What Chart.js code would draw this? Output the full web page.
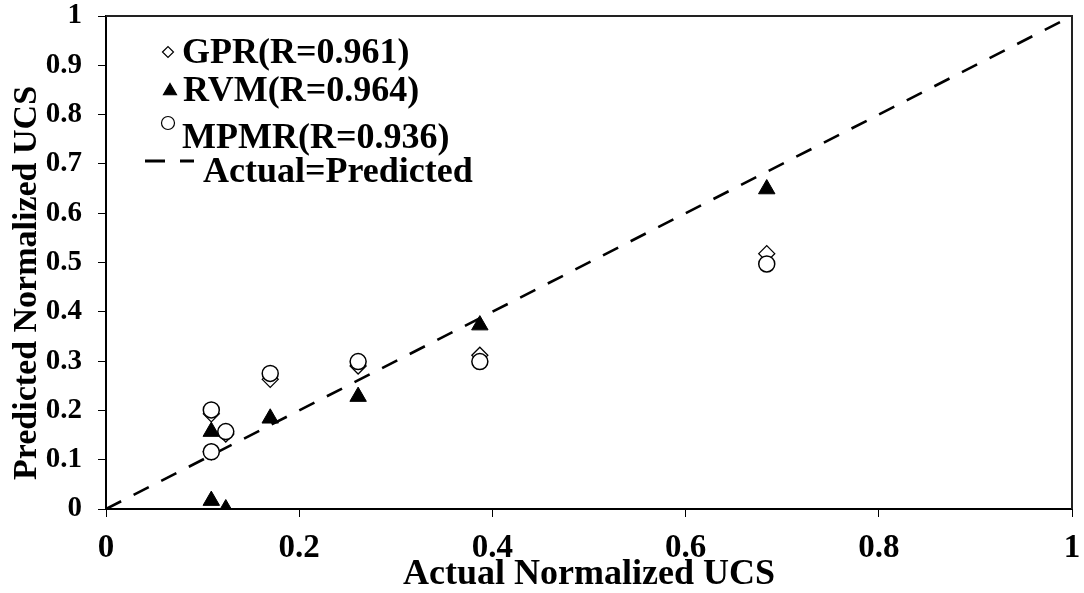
<!DOCTYPE html>
<html>
<head>
<meta charset="utf-8">
<script src="https://cdn.jsdelivr.net/npm/chart.js@4.4.1/dist/chart.umd.min.js"></script>
<style>
  html, body { margin: 0; padding: 0; background: #fff; }
  #wrap { width: 1084px; height: 593px; }
</style>
</head>
<body>
<div id="wrap"><canvas id="ucsChart" width="1084" height="593"></canvas></div>
<script>
// ─── Data ────────────────────────────────────────────────
const actualUcs = [0.109, 0.109, 0.124, 0.170, 0.261, 0.387, 0.684];
const gprPred   = [0.193, 0.116, 0.152, 0.263, 0.290, 0.312, 0.518];
const rvmPred   = [0.157, 0.017, 0.000, 0.184, 0.228, 0.373, 0.649];
const mpmrPred  = [0.201, 0.116, 0.157, 0.275, 0.299, 0.299, 0.497];
const idealLine = [0, 1];

const seriesLabels = ['GPR(R=0.961)', 'RVM(R=0.964)', 'MPMR(R=0.936)', 'Actual=Predicted'];
const xTitle = 'Actual Normalized UCS';
const yTitle = 'Predicted Normalized UCS';

const SERIF = "'Liberation Serif', 'Times New Roman', serif";
const toPoints = (xs, ys) => xs.map((x, i) => ({ x, y: ys[i] }));

// ─── Frame, axis titles and in-plot legend ───────────────
const decorPlugin = {
  id: 'decor',
  afterDraw(chart) {
    const { ctx, chartArea } = chart;
    const { left, right, top, bottom } = chartArea;
    const draw = Chart.helpers.drawPoint;
    ctx.save();

    // top + right frame
    ctx.strokeStyle = '#222';
    ctx.lineWidth = 2;
    ctx.beginPath();
    ctx.moveTo(left, top);
    ctx.lineTo(right, top);
    ctx.lineTo(right, bottom);
    ctx.stroke();

    // axis titles
    ctx.fillStyle = '#000';
    ctx.font = 'bold 36px ' + SERIF;
    ctx.textAlign = 'center';
    ctx.textBaseline = 'alphabetic';
    ctx.fillText(xTitle, (left + right) / 2, 584);

    ctx.save();
    ctx.translate(36, 283);
    ctx.rotate(-Math.PI / 2);
    ctx.font = 'bold 34px ' + SERIF;
    ctx.fillText(yTitle, 0, 0);
    ctx.restore();

    // legend
    ctx.textAlign = 'left';
    ctx.font = 'bold 36px ' + SERIF;
    ctx.lineWidth = 1.2;
    ctx.strokeStyle = '#000';

    ctx.fillStyle = '#fff';
    draw(ctx, { pointStyle: 'rectRot', radius: 5.5, borderWidth: 1.2 }, 168, 52);
    ctx.fillStyle = '#000';
    ctx.fillText(seriesLabels[0], 182, 63);

    draw(ctx, { pointStyle: 'triangle', radius: 7.5, borderWidth: 1 }, 170, 91);
    ctx.fillText(seriesLabels[1], 183, 101);

    ctx.fillStyle = '#fff';
    draw(ctx, { pointStyle: 'circle', radius: 6.5, borderWidth: 1.2 }, 168, 123);
    ctx.fillStyle = '#000';
    ctx.fillText(seriesLabels[2], 182, 148);

    ctx.lineWidth = 3;
    ctx.beginPath();
    ctx.moveTo(145, 161); ctx.lineTo(165, 161);
    ctx.moveTo(180, 161); ctx.lineTo(194, 161);
    ctx.stroke();
    ctx.fillText(seriesLabels[3], 203, 182);

    ctx.restore();
  },
};

// ─── Scatter chart ───────────────────────────────────────
function renderUcsChart() {
  const canvas = document.getElementById('ucsChart');

  const axisCommon = {
    type: 'linear',
    min: 0,
    max: 1,
    grid: { drawOnChartArea: false, drawTicks: true, tickLength: 8, color: '#000', lineWidth: 1 },
    border: { display: true, color: '#000', width: 2 },
  };
  const fmt = v => (v === 0 || v === 1) ? String(v) : v.toFixed(1);

  new Chart(canvas, {
    type: 'scatter',
    data: {
      datasets: [
        {
          label: seriesLabels[2],
          data: toPoints(actualUcs, mpmrPred),
          pointStyle: 'circle',
          pointRadius: 8,
          pointBackgroundColor: '#fff',
          pointBorderColor: '#000',
          pointBorderWidth: 1.5,
          order: 1,
        },
        {
          label: seriesLabels[1],
          data: toPoints(actualUcs, rvmPred),
          pointStyle: 'triangle',
          pointRadius: 9.5,
          pointBackgroundColor: '#000',
          pointBorderColor: '#000',
          pointBorderWidth: 1,
          order: 2,
        },
        {
          label: seriesLabels[0],
          data: toPoints(actualUcs, gprPred),
          pointStyle: 'rectRot',
          pointRadius: 8,
          pointBackgroundColor: '#fff',
          pointBorderColor: '#000',
          pointBorderWidth: 1.3,
          order: 3,
        },
        {
          type: 'line',
          label: seriesLabels[3],
          data: toPoints(idealLine, idealLine),
          borderColor: '#000',
          borderWidth: 2.6,
          borderDash: [17, 14],
          pointRadius: 0,
          fill: false,
          order: 4,
        },
      ],
    },
    options: {
      responsive: false,
      animation: false,
      layout: { padding: { top: 16, right: 12, left: 0, bottom: 0 } },
      plugins: { legend: { display: false }, tooltip: { enabled: false } },
      scales: {
        x: {
          ...axisCommon,
          ticks: {
            stepSize: 0.2,
            padding: 12,
            color: '#000',
            font: { family: SERIF, size: 33, weight: 'bold' },
            callback: fmt,
          },
          afterFit(scale) {
            scale.height = 84;
            scale.paddingLeft = 0;
            scale.paddingRight = 0;
          },
        },
        y: {
          ...axisCommon,
          ticks: {
            stepSize: 0.1,
            padding: 16,
            color: '#000',
            font: { family: SERIF, size: 29, weight: 'bold' },
            callback: fmt,
          },
          afterFit(scale) {
            scale.width = 106;
            scale.paddingTop = 0;
            scale.paddingBottom = 0;
          },
        },
      },
    },
    plugins: [decorPlugin],
  });
}

renderUcsChart();
</script>
</body>
</html>
